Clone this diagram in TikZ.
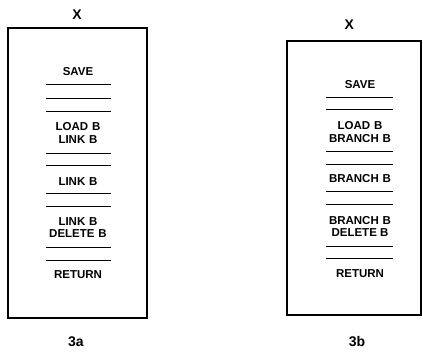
\documentclass[tikz,border=0pt]{standalone}
\usepackage{fontspec}
\setmainfont{Liberation Sans}
\begin{document}
\begin{tikzpicture}[x=1pt,y=-1pt,
  frame/.style={draw,line width=1.6pt},
  sep/.style={line width=1pt},
  lbl/.style={font=\bfseries\fontsize{11.5}{12.6}\selectfont,inner sep=0pt,align=center},
  figcap/.style={font=\bfseries\fontsize{14}{15}\selectfont,inner sep=0pt}]
\useasboundingbox (0,0) rectangle (423,356);
% ---- 3a ----
\node[frame,minimum width=139pt,minimum height=290pt,inner sep=0pt] (boxA) at (77.5,173) {};
\node[figcap] (xA) at (77,15) {X};
\node[figcap] (capA) at (76,342) {3a};
\node[lbl] (a1) at (78,71.7) {SAVE};
\node[lbl] (a2) at (78,133) {LOAD\,\,B\\LINK\,\,B};
\node[lbl] (a3) at (78,181.7) {LINK\,\,B};
\node[lbl] (a4) at (78,227.5) {LINK\,\,B\\DELETE\,\,B};
\node[lbl] (a5) at (78,275) {RETURN};
\foreach \yy [count=\i] in {84.3,98.3,111.7,153.3,165.7,193.3,206.7,247.7,260}{
  \coordinate (al\i) at (46,\yy); \coordinate (ar\i) at (111,\yy);
  \draw[sep] (al\i) -- (ar\i);}
% ---- 3b ----
\node[frame,minimum width=134pt,minimum height=274pt,inner sep=0pt] (boxB) at (354,177.8) {};
\node[figcap] (xB) at (349.3,25) {X};
\node[figcap] (capB) at (357,341.7) {3b};
\node[lbl] (b1) at (360,84.3) {SAVE};
\node[lbl] (b2) at (360,132.2) {LOAD\,\,B\\BRANCH\,\,B};
\node[lbl] (b3) at (360,179) {BRANCH\,\,B};
\node[lbl] (b4) at (360,226.4) {BRANCH\,\,B\\DELETE B};
\node[lbl] (b5) at (360,273.3) {RETURN};
\foreach \yy [count=\i] in {97.3,109.3,151.7,164,191.7,204,246,258.3}{
  \coordinate (bl\i) at (326,\yy); \coordinate (br\i) at (393.3,\yy);
  \draw[sep] (bl\i) -- (br\i);}
\end{tikzpicture}
\end{document}
